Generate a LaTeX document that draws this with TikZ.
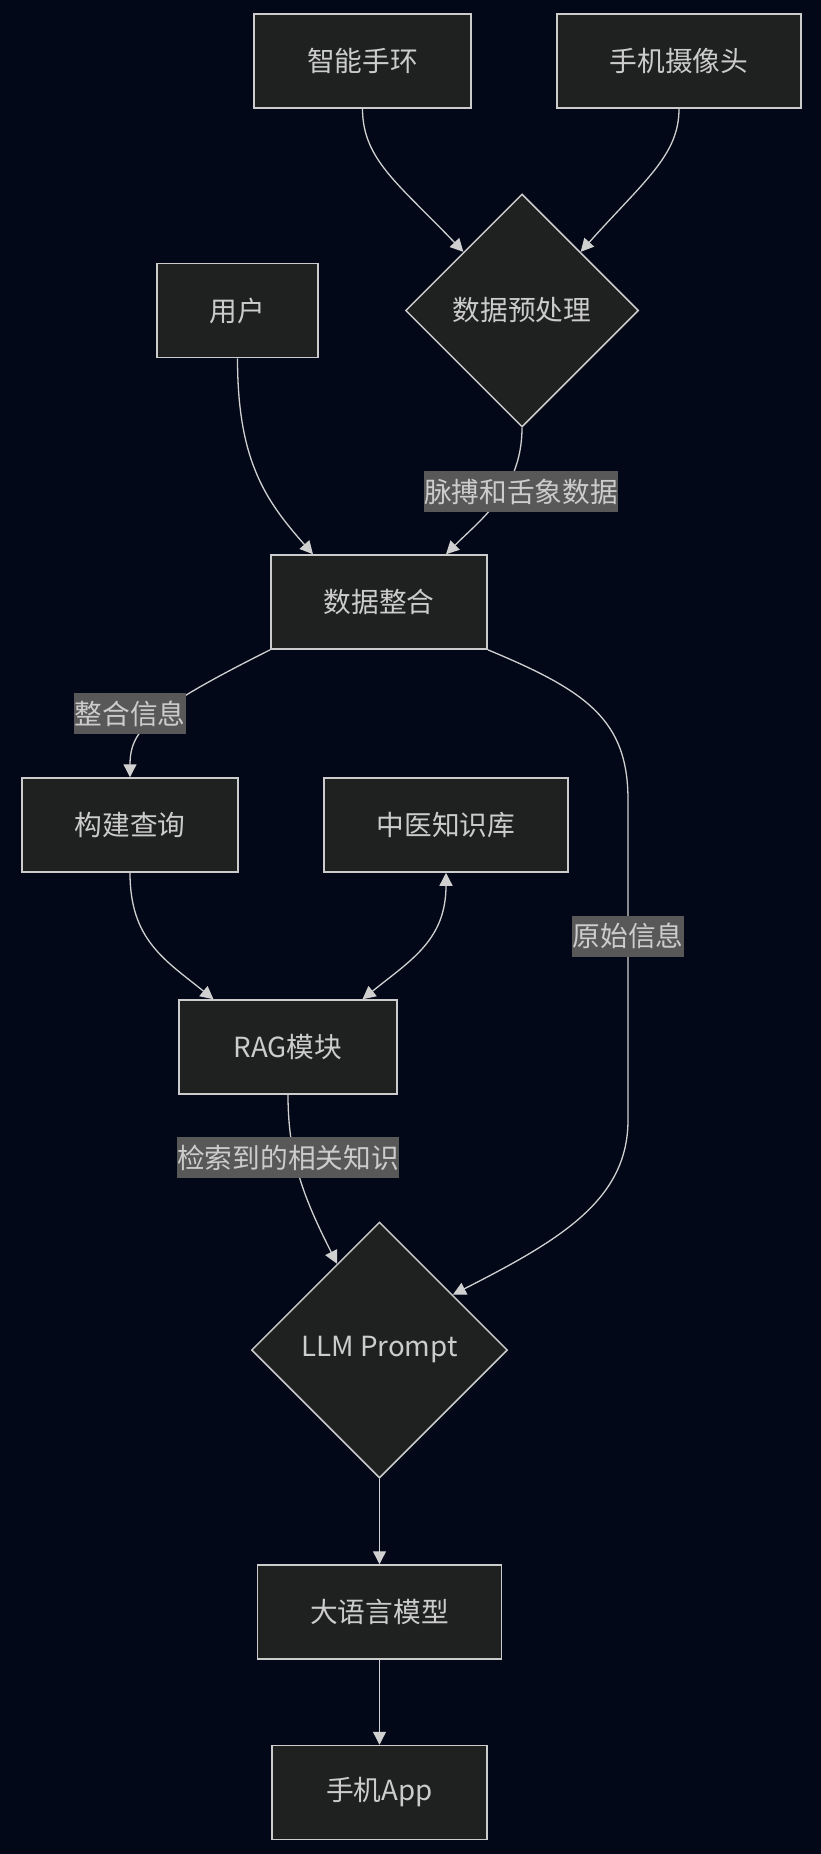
\documentclass[tikz,border=0pt]{standalone}
\usepackage{fontspec}
\setmainfont{Noto Sans CJK SC}
\usetikzlibrary{shapes.geometric,arrows.meta,calc}
\definecolor{bgc}{HTML}{020817}
\definecolor{nodefill}{HTML}{1F2020}
\definecolor{nodeline}{HTML}{CCCCCC}
\definecolor{txt}{HTML}{CCCCCC}
\definecolor{lblfill}{HTML}{585858}
\definecolor{edgec}{HTML}{D0D0D0}
\newcommand\dgfont{\fontsize{27.7}{33}\selectfont}
\begin{document}
\begin{tikzpicture}[x=1pt,y=-1pt,
  box/.style={rectangle, draw=nodeline, fill=nodefill, line width=1.5pt, text=txt, font=\dgfont, inner sep=0pt},
  dia/.style={diamond, aspect=1, draw=nodeline, fill=nodefill, line width=1.5pt, text=txt, font=\dgfont, inner sep=0pt},
  lbl/.style={fill=lblfill, text=txt, font=\dgfont, inner sep=0.5pt, minimum height=41pt},
  conn/.style={draw=edgec, line width=1.3pt, -{Triangle[length=13pt,width=13pt]}},
]
\fill[bgc] (0,0) rectangle (821,1854);
\useasboundingbox (0,0) rectangle (821,1854);

\node[box, minimum width=217pt, minimum height=94pt] (sb) at (362.5,61) {智能手环};
\node[box, minimum width=244pt, minimum height=94pt] (cam) at (679,61) {手机摄像头};
\node[dia, minimum width=233pt, minimum height=233pt] (pre) at (522,310.5) {数据预处理};
\node[box, minimum width=161pt, minimum height=94pt] (user) at (237.5,310.5) {用户};
\node[box, minimum width=216pt, minimum height=94pt] (dz) at (379,602) {数据整合};
\node[box, minimum width=216pt, minimum height=94pt] (q) at (130,825) {构建查询};
\node[box, minimum width=244pt, minimum height=94pt] (kb) at (446,825) {中医知识库};
\node[box, minimum width=218pt, minimum height=94pt] (rag) at (288,1047) {RAG模块};
\node[dia, minimum width=256pt, minimum height=256pt] (llm) at (379.5,1350) {LLM Prompt};
\node[box, minimum width=244pt, minimum height=94pt] (lm) at (379.5,1612) {大语言模型};
\node[box, minimum width=215pt, minimum height=94pt] (app) at (379.5,1792.5) {手机App};

\draw[conn] (sb.south) .. controls (362.5,160) and (400,185) .. (pre.north west);
\draw[conn] (cam.south) .. controls (679,155) and (645,180) .. (pre.north east);
\draw[conn] (user.south) .. controls (237.5,460) and (265,500) .. ($(dz.north)+(-66,0)$);
\draw[conn] (pre.south) .. controls (522,490) and (480,520) .. ($(dz.north)+(67,0)$);
\draw[conn] (dz.south west) .. controls (150,710) and (130,730) .. (q.north);
\draw[conn] (dz.south east) .. controls (587,691) and (628,720) .. (628,800) -- (628,1120) .. controls (628,1200) and (560,1240) .. ($(llm.north)!0.57!(llm.east)$);
\draw[conn] (q.south) .. controls (130,940) and (165,960) .. ($(rag.north)+(-74.5,0)$);
\draw[conn, {Triangle[length=13pt,width=13pt]}-{Triangle[length=13pt,width=13pt]}] (kb.south) .. controls (446,940) and (411,960) .. ($(rag.north)+(74.5,0)$);
\draw[conn] (rag.south) .. controls (288,1160) and (305,1200) .. ($(llm.west)!0.67!(llm.north)$);
\draw[conn] (llm.south) -- (lm.north);
\draw[conn] (lm.south) -- (app.north);

\node[lbl] (l1) at (521,491.5) {脉搏和舌象数据};
\node[lbl] (l2) at (130,713.5) {整合信息};
\node[lbl] (l3) at (628,936) {原始信息};
\node[lbl] (l4) at (288,1157.5) {检索到的相关知识};
\end{tikzpicture}
\end{document}
